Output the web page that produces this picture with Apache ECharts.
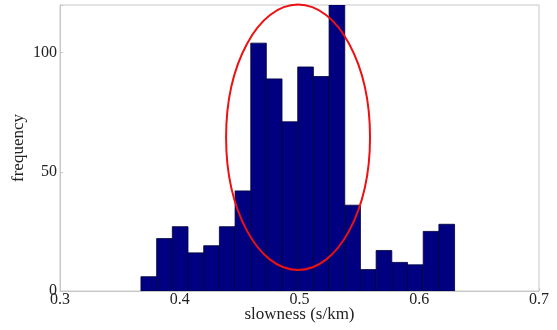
<!DOCTYPE html>
<html><head><meta charset="utf-8">
<script src="https://cdn.jsdelivr.net/npm/echarts@6/dist/echarts.min.js"></script>
<style>html,body{margin:0;padding:0;background:#fff}#c{width:557px;height:330px}</style>
</head><body><div id="c"></div>
<script>
const binEdges = [0.3676,0.3807,0.3938,0.4069,0.4200,0.4331,0.4462,0.4593,0.4723,0.4854,0.4985,0.5116,0.5247,0.5378,0.5509,0.5640,0.5771,0.5902,0.6033,0.6164,0.6295];
const counts = [6,22,27,16,19,27,42,104,89,71,94,90,126,36,9,17,12,11,25,28];
const xTicks = [0.3,0.4,0.5,0.6,0.7];
const yTicks = [0,50,100];
const ellipse = [0.4988, 64.5, 0.0601, 55.7]; // center x, center y, radius x, radius y (data units)

const bars = counts.map((c,i)=>[binEdges[i], binEdges[i+1], c]);
const chart = echarts.init(document.getElementById('c'));
const font = '"Liberation Serif", "DejaVu Serif", serif';
chart.setOption({
  animation:false,
  grid:{left:60,right:18,top:5,bottom:39,show:true,borderColor:'#c8c8c8',borderWidth:1,
    containLabel:false,outerBoundsMode:'none'},
  xAxis:{type:'value',min:0.3,max:0.7,interval:0.1,
    name:'slowness (s/km)',nameLocation:'middle',nameGap:15,nameMoveOverlap:false,
    nameTextStyle:{fontFamily:font,fontSize:17,color:'#222'},
    axisLine:{show:true,lineStyle:{color:'#c8c8c8'}},
    axisTick:{show:true,inside:true,length:3,lineStyle:{color:'#c8c8c8'}},
    splitLine:{show:false},
    axisLabel:{fontFamily:font,fontSize:16,color:'#222',margin:1,
      formatter:v=>xTicks.some(t=>Math.abs(t-v)<1e-9)?v.toFixed(1):''}},
  yAxis:{type:'value',min:0,max:120,interval:50,
    name:'frequency',nameLocation:'middle',nameGap:33,nameRotate:90,nameMoveOverlap:false,
    nameTextStyle:{fontFamily:font,fontSize:17,color:'#222'},
    axisLine:{show:true,lineStyle:{color:'#c8c8c8'}},
    axisTick:{show:true,inside:true,length:3,lineStyle:{color:'#c8c8c8'}},
    splitLine:{show:false},
    axisLabel:{fontFamily:font,fontSize:16,color:'#222',margin:3,
      formatter:v=>yTicks.includes(v)?String(v):''}},
  series:[
    {type:'custom',clip:true,data:bars,
      renderItem:(p,api)=>{
        const a=api.coord([api.value(0),0]);
        const b=api.coord([api.value(1),api.value(2)]);
        const r=echarts.graphic.clipRectByRect({x:a[0],y:b[1],width:b[0]-a[0],height:a[1]-b[1]},
          {x:p.coordSys.x,y:p.coordSys.y,width:p.coordSys.width,height:p.coordSys.height});
        return r&&{type:'rect',shape:r,style:{fill:'#000080',stroke:'#00003a',lineWidth:0.8}};
      }},
    {type:'custom',data:[ellipse],z:5,
      renderItem:(p,api)=>{
        const c=api.coord([api.value(0),api.value(1)]);
        const e=api.coord([api.value(0)+api.value(2),api.value(1)+api.value(3)]);
        return {type:'ellipse',shape:{cx:c[0],cy:c[1],rx:e[0]-c[0],ry:c[1]-e[1]},
          style:{fill:'none',stroke:'#ee1111',lineWidth:2}};
      }}
  ]
});
</script></body></html>
